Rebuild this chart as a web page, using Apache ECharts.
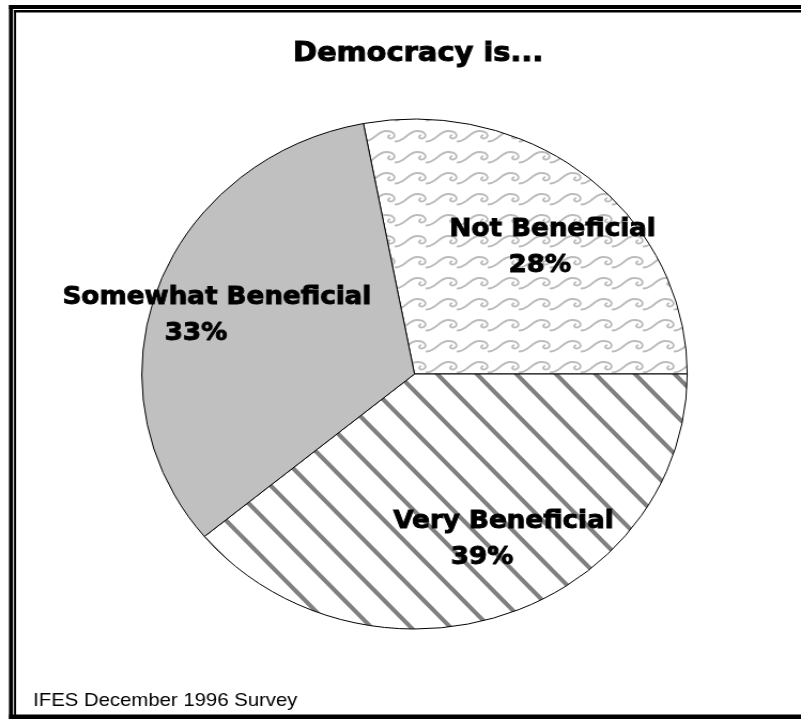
<!DOCTYPE html>
<html>
<head>
<meta charset="utf-8">
<title>Democracy is...</title>
<script src="https://cdn.jsdelivr.net/npm/echarts@6/dist/echarts.min.js"></script>
<style>
  html, body { margin: 0; padding: 0; background: #ffffff; }
  #wrap { width: 801px; height: 719px; overflow: hidden; position: relative; background: #ffffff; }
  /* the chart is laid out a little narrower and stretched across the page */
  #chart { width: 749px; height: 719px; transform: scaleX(1.069426); transform-origin: 0 0; }
</style>
</head>
<body>
<div id="wrap"><div id="chart"></div></div>
<script>
// Survey answers, in drawing order (clockwise)
const categories = ['Not Beneficial', 'Very Beneficial', 'Somewhat Beneficial'];
const shares = [28, 39, 33];

const titleText = 'Democracy is...';
const sourceText = 'IFES December 1996 Survey';

// Nudges that move each slice label away from its default inside spot
const labelShift = [[46, -26], [39, 43], [-62, -14]];
// How far the percentage line sits left of the name line, per slice
const pctPad = [24, 40, 39];

// Wavy fill used for the "Not Beneficial" slice
function waveTile() {
  const w = 29, h = 21, k = 1.2;
  const c = document.createElement('canvas');
  c.width = w; c.height = h;
  const g = c.getContext('2d');
  g.fillStyle = '#ffffff';
  g.fillRect(0, 0, w, h);
  g.strokeStyle = '#bcbcbc';
  g.lineWidth = 1.9;
  g.lineCap = 'round';
  // one breaking wave, repeated left and right so it wraps across the tile edge
  for (let ox = -w; ox <= w; ox += w) {
    g.beginPath();
    g.moveTo(ox - 6 * k, 15.5);
    g.bezierCurveTo(ox + 1 * k, 15.5, ox + 4 * k, 5, ox + 11 * k, 5);
    g.bezierCurveTo(ox + 17 * k, 5, ox + 19 * k, 10, ox + 16 * k, 12);
    g.bezierCurveTo(ox + 13.5 * k, 13.5, ox + 11 * k, 11, ox + 13.5 * k, 9.2);
    g.stroke();
  }
  return c;
}

// Diagonal hatching used for the "Very Beneficial" slice
function stripeTile() {
  const w = 37, h = 40, phase = 12;
  const c = document.createElement('canvas');
  c.width = w; c.height = h;
  const g = c.getContext('2d');
  g.fillStyle = '#ffffff';
  g.fillRect(0, 0, w, h);
  g.strokeStyle = '#808080';
  g.lineWidth = 4.2;
  for (let k = -2; k <= 2; k++) {
    g.beginPath();
    g.moveTo(-w, phase + k * h - h);
    g.lineTo(2 * w, phase + k * h + 2 * h);
    g.stroke();
  }
  return c;
}

const fills = [
  { image: waveTile(), repeat: 'repeat' },
  { image: stripeTile(), repeat: 'repeat' },
  '#c0c0c0'
];

const chart = echarts.init(document.getElementById('chart'), null, { renderer: 'canvas' });

const labelFont = 'DejaVu Sans';
const boldText = {
  fontFamily: labelFont, fontWeight: 'bold', fontSize: 24.5, lineHeight: 36,
  color: '#000', textBorderColor: '#000', textBorderWidth: 0.9
};

const rich = { n: Object.assign({}, boldText) };
pctPad.forEach((pad, i) => {
  rich['p' + i] = Object.assign({}, boldText, { padding: [0, pad, 0, 0] });
});

chart.setOption({
  animation: false,
  backgroundColor: '#ffffff',
  series: [{
    type: 'pie',
    center: [387.6, 374],
    radius: 255,
    startAngle: 100.8,
    clockwise: true,
    silent: true,
    avoidLabelOverlap: false,
    itemStyle: { borderColor: '#000000', borderWidth: 1 },
    label: Object.assign({}, boldText, {
      show: true,
      position: 'inside',
      align: 'center',
      formatter: p => '{n|' + p.name + '}\n{p' + p.dataIndex + '|' + p.value + '%}',
      rich: rich
    }),
    labelLine: { show: false },
    labelLayout: params => {
      const s = labelShift[params.dataIndex];
      return { dx: s[0], dy: s[1] };
    },
    emphasis: { disabled: true },
    data: categories.map((name, i) => ({
      name: name,
      value: shares[i],
      itemStyle: { color: fills[i] }
    }))
  }],
  graphic: [
    // double frame along the top and left, heavy rule along the bottom
    { type: 'rect', shape: { x: 8.4, y: 5, width: 760, height: 4 }, style: { fill: '#000' } },
    { type: 'rect', shape: { x: 13.1, y: 10, width: 760, height: 2.5 }, style: { fill: '#000' } },
    { type: 'rect', shape: { x: 8.4, y: 5, width: 3.8, height: 714 }, style: { fill: '#000' } },
    { type: 'rect', shape: { x: 13.1, y: 10, width: 1.9, height: 706 }, style: { fill: '#000' } },
    { type: 'rect', shape: { x: 8.4, y: 714.6, width: 760, height: 4.4 }, style: { fill: '#000' } },
    {
      type: 'text', x: 391, y: 54,
      style: {
        text: titleText, fill: '#000',
        font: 'bold 27px "DejaVu Sans"',
        stroke: '#000', lineWidth: 1,
        textAlign: 'center', textVerticalAlign: 'middle'
      }
    },
    {
      type: 'text', x: 31, y: 701,
      style: {
        text: sourceText, fill: '#000',
        font: '19px "Liberation Sans", Arial, sans-serif',
        textAlign: 'left', textVerticalAlign: 'middle'
      }
    }
  ]
});
</script>
</body>
</html>
